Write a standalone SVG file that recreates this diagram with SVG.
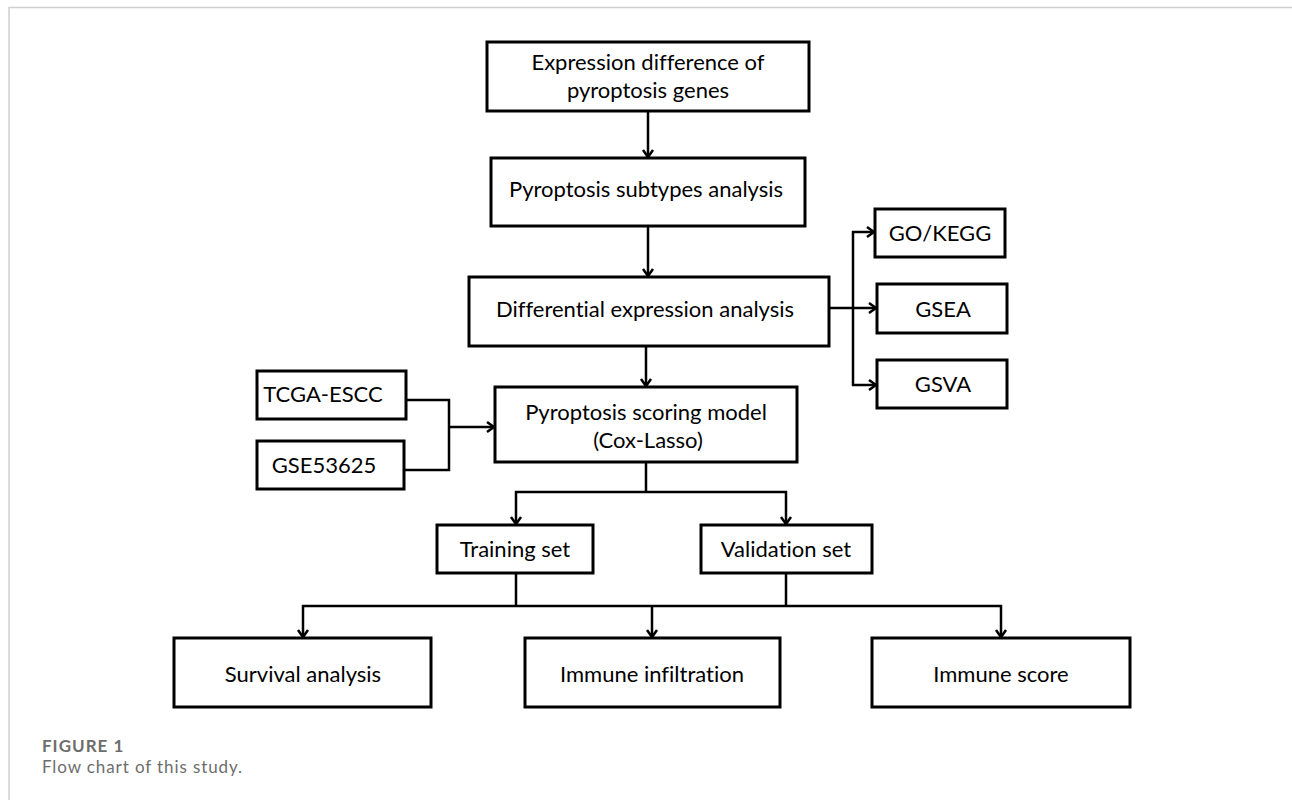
<svg xmlns="http://www.w3.org/2000/svg" width="1292" height="800" viewBox="0 0 1292 800">
<defs>
<style>
.box{fill:#fff;stroke:#000;stroke-width:3}
.t{font-family:Lato,"Open Sans","Liberation Sans",sans-serif;font-size:22px;fill:#000;text-anchor:middle;font-variant-ligatures:none}
.c{stroke:#000;stroke-width:2.5;fill:none}
.cap1{font-family:Lato,"Open Sans",sans-serif;font-size:17px;font-weight:bold;fill:#6d6d6d;letter-spacing:1px}
.cap2{font-family:Lato,"Open Sans",sans-serif;font-size:17px;fill:#6d6d6d;letter-spacing:0.9px;font-variant-ligatures:none}
</style>
<marker id="arr" markerUnits="userSpaceOnUse" markerWidth="14" markerHeight="14" refX="9" refY="7" orient="auto">
<path d="M2,2 L9,7 L2,12" fill="none" stroke="#000" stroke-width="2.5"/>
</marker>
</defs>
<rect x="0" y="0" width="1292" height="800" fill="#fff"/>
<path d="M9,800 V7.5 H1292" fill="none" stroke="#cfcfcf" stroke-width="1.5"/>

<g id="connectors">
<line class="c" x1="648" y1="111" x2="648" y2="157" marker-end="url(#arr)"/>
<line class="c" x1="648" y1="226" x2="648" y2="276" marker-end="url(#arr)"/>
<line class="c" x1="646" y1="346" x2="646" y2="386" marker-end="url(#arr)"/>
<polyline class="c" points="406,400 449,400 449,470 404,470"/>
<line class="c" x1="449" y1="427" x2="494" y2="427" marker-end="url(#arr)"/>
<line class="c" x1="829" y1="308" x2="876" y2="308" marker-end="url(#arr)"/>
<line class="c" x1="853" y1="231" x2="853" y2="386"/>
<line class="c" x1="852" y1="232" x2="874" y2="232" marker-end="url(#arr)"/>
<line class="c" x1="852" y1="385" x2="876" y2="385" marker-end="url(#arr)"/>
<line class="c" x1="646" y1="462" x2="646" y2="492"/>
<line class="c" x1="515" y1="492" x2="787" y2="492"/>
<line class="c" x1="516" y1="491" x2="516" y2="524" marker-end="url(#arr)"/>
<line class="c" x1="786" y1="491" x2="786" y2="524" marker-end="url(#arr)"/>
<line class="c" x1="516" y1="573" x2="516" y2="606"/>
<line class="c" x1="786" y1="573" x2="786" y2="606"/>
<line class="c" x1="302" y1="606" x2="1002" y2="606"/>
<line class="c" x1="303" y1="605" x2="303" y2="637" marker-end="url(#arr)"/>
<line class="c" x1="652" y1="605" x2="652" y2="637" marker-end="url(#arr)"/>
<line class="c" x1="1001" y1="605" x2="1001" y2="637" marker-end="url(#arr)"/>
</g>

<g id="n-expr"><rect class="box" x="487" y="42" width="322" height="69"/><text class="t" x="648" y="70">Expression difference of</text><text class="t" x="648" y="98">pyroptosis genes</text></g>
<g id="n-subtypes"><rect class="box" x="491" y="158" width="314" height="68"/><text class="t" x="646" y="197">Pyroptosis subtypes analysis</text></g>
<g id="n-diff"><rect class="box" x="469" y="277" width="360" height="69"/><text class="t" x="645" y="317">Differential expression analysis</text></g>
<g id="n-score"><rect class="box" x="495" y="387" width="302" height="75"/><text class="t" x="646" y="420">Pyroptosis scoring model</text><text class="t" x="648" y="448">(Cox-Lasso)</text></g>
<g id="n-tcga"><rect class="box" x="257" y="371" width="149" height="48"/><text class="t" x="323" y="402">TCGA-ESCC</text></g>
<g id="n-gse"><rect class="box" x="257" y="441" width="147" height="48"/><text class="t" x="324" y="473">GSE53625</text></g>
<g id="n-gokegg"><rect class="box" x="875" y="209" width="130" height="48"/><text class="t" x="940" y="241">GO/KEGG</text></g>
<g id="n-gsea"><rect class="box" x="877" y="284" width="130" height="49"/><text class="t" x="943" y="317">GSEA</text></g>
<g id="n-gsva"><rect class="box" x="877" y="360" width="130" height="48"/><text class="t" x="943" y="392">GSVA</text></g>
<g id="n-train"><rect class="box" x="437" y="525" width="156" height="48"/><text class="t" x="515" y="557">Training set</text></g>
<g id="n-valid"><rect class="box" x="701" y="525" width="171" height="48"/><text class="t" x="786" y="557">Validation set</text></g>
<g id="n-surv"><rect class="box" x="174" y="638" width="257" height="69"/><text class="t" x="303" y="682">Survival analysis</text></g>
<g id="n-infil"><rect class="box" x="525" y="638" width="255" height="69"/><text class="t" x="652" y="682">Immune infiltration</text></g>
<g id="n-iscore"><rect class="box" x="872" y="638" width="258" height="69"/><text class="t" x="1001" y="682">Immune score</text></g>

<text class="cap1" x="42" y="752">FIGURE 1</text>
<text class="cap2" x="42" y="773">Flow chart of this study.</text>
</svg>
